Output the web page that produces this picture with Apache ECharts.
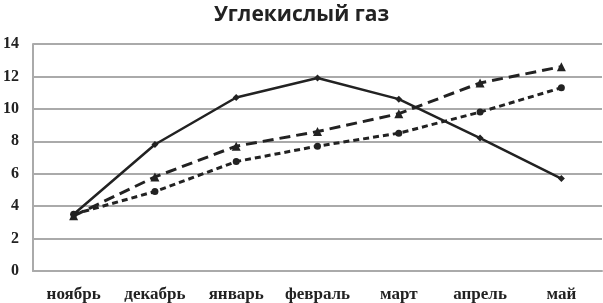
<!DOCTYPE html>
<html>
<head>
<meta charset="utf-8">
<script src="https://cdn.jsdelivr.net/npm/echarts@6/dist/echarts.min.js"></script>
<style>
  html, body { margin: 0; padding: 0; background: #fff; }
  #chart { width: 603px; height: 303px; }
</style>
</head>
<body>
<div id="chart"></div>
<script>
  // месяцы
  var months = ['ноябрь', 'декабрь', 'январь', 'февраль', 'март', 'апрель', 'май']
  var solidLine = [3.5, 7.8, 10.7, 11.9, 10.6, 8.2, 5.7]
  var dashLine = [3.4, 5.8, 7.7, 8.6, 9.7, 11.6, 12.6]
  var dotLine = [3.5, 4.9, 6.75, 7.7, 8.5, 9.8, 11.3]

  var chart = echarts.init(document.getElementById('chart'))
  var lineColor = '#222'

  var options = {
    animation: false,
    title: {
      text: 'Углекислый газ',
      left: 'center',
      top: 0,
      textStyle: {
        fontFamily: 'Open Sans',
        fontWeight: 'bold',
        fontSize: 21,
        color: '#222'
      }
    },
    grid: {
      left: 31,
      right: 1,
      top: 44,
      bottom: 31
    },
    xAxis: {
      type: 'category',
      boundaryGap: true,
      data: months,
      axisTick: { show: false },
      axisLine: { show: true, lineStyle: { color: '#aaa', width: 2 } },
      axisLabel: {
        color: '#222',
        fontFamily: 'Liberation Serif',
        fontWeight: 'bold',
        fontSize: 17,
        margin: 15,
        interval: 0
      }
    },
    yAxis: {
      type: 'value',
      min: 0,
      max: 14,
      interval: 2,
      axisTick: { show: false },
      axisLine: { show: true, lineStyle: { color: '#aaa', width: 2 } },
      splitLine: { show: true, lineStyle: { color: '#aaa', width: 2 } },
      axisLabel: {
        color: '#222',
        fontFamily: 'Liberation Serif',
        fontWeight: 'bold',
        fontSize: 16,
        margin: 14
      }
    },
    series: [
      {
        type: 'line',
        data: solidLine,
        symbol: 'diamond',
        symbolSize: 7,
        itemStyle: { color: lineColor },
        lineStyle: { color: lineColor, width: 2.5 }
      },
      {
        type: 'line',
        data: dashLine,
        symbol: 'triangle',
        symbolSize: 9,
        itemStyle: { color: lineColor },
        lineStyle: { color: lineColor, width: 3, type: [11, 6] }
      },
      {
        type: 'line',
        data: dotLine,
        symbol: 'circle',
        symbolSize: 7,
        itemStyle: { color: lineColor },
        lineStyle: { color: lineColor, width: 3, type: [6, 4] }
      }
    ]
  }

  chart.setOption(options, true)
</script>
</body>
</html>
